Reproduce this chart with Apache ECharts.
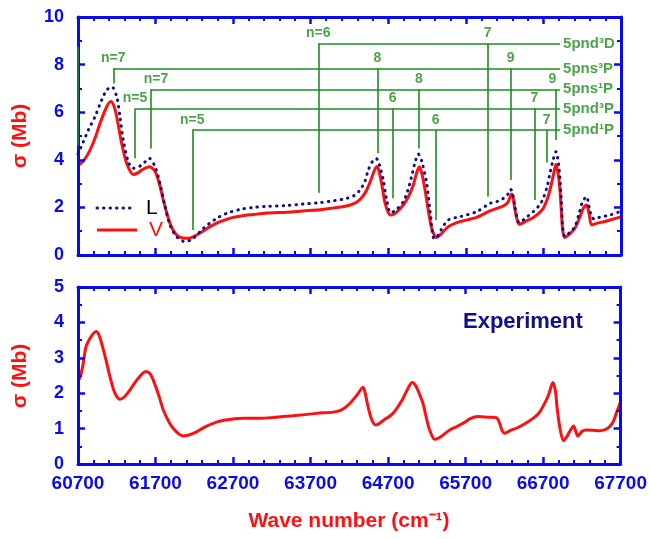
<!DOCTYPE html>
<html>
<head>
<meta charset="utf-8">
<script src="https://cdn.jsdelivr.net/npm/echarts@6/dist/echarts.min.js"></script>
<style>
  html, body { margin: 0; padding: 0; background: #fff; }
  .layer { position: absolute; left: 0; top: 0; width: 650px; height: 539px; }
</style>
</head>
<body>
<div class="layer" id="frame"></div>
<div class="layer" id="overlay"></div>
<script>
// Photoionization cross section (Mb) versus wave number (cm^-1)

// Theory, velocity form
const velocityForm = [
  [60700,3.75],[60780,4.0],[60855,4.41],[60930,5.0],[60984,5.53],[61070,6.23],[61125,6.45],[61165,6.25],
  [61199,5.81],[61263,4.69],[61328,3.85],[61413,3.38],[61470,3.45],[61521,3.57],[61619,3.71],[61680,3.58],
  [61714,3.36],[61760,2.85],[61800,2.31],[61886,1.33],[61972,0.84],[62080,0.70],[62150,0.72],[62230,0.84],
  [62320,1.02],[62402,1.19],[62530,1.40],[62617,1.50],[62700,1.58],[62800,1.64],[62960,1.70],[63132,1.76],
  [63390,1.80],[63600,1.85],[63819,1.90],[64000,1.98],[64163,2.06],[64270,2.18],[64335,2.33],[64400,2.6],
  [64464,3.05],[64520,3.55],[64555,3.72],[64590,3.4],[64625,2.8],[64657,2.2],[64700,1.78],[64731,1.68],
  [64790,1.75],[64893,2.10],[64960,2.45],[65022,2.94],[65070,3.5],[65100,3.71],[65135,3.4],[65170,2.8],
  [65195,2.31],[65230,1.6],[65259,1.12],[65300,0.80],[65324,0.74],[65380,0.88],[65473,1.19],[65624,1.40],
  [65839,1.58],[66011,1.85],[66118,1.98],[66183,2.06],[66240,2.2],[66290,2.56],[66310,2.4],[66333,1.89],
  [66360,1.5],[66389,1.29],[66480,1.43],[66570,1.58],[66650,1.78],[66698,1.96],[66750,2.35],[66784,2.73],
  [66825,3.3],[66861,3.81],[66890,3.4],[66913,2.73],[66930,1.9],[66948,1.05],[66977,0.74],[67040,0.9],
  [67106,1.12],[67170,1.6],[67214,1.96],[67257,2.10],[67290,1.7],[67322,1.26],[67386,1.33],[67480,1.40],
  [67558,1.47],[67700,1.60]
];

// Theory, length form
const lengthForm = [
  [60700,4.25],[60768,4.75],[60833,5.25],[60919,5.81],[61005,6.51],[61070,6.93],[61134,7.07],[61199,6.65],
  [61241,5.81],[61284,4.83],[61349,3.92],[61413,3.64],[61521,3.78],[61619,4.06],[61693,3.71],[61757,3.01],
  [61822,2.03],[61886,1.26],[61972,0.77],[62080,0.56],[62187,0.70],[62315,1.12],[62488,1.54],[62617,1.75],
  [62800,1.92],[62960,2.0],[63132,2.04],[63390,2.08],[63600,2.14],[63819,2.2],[64000,2.28],[64163,2.38],
  [64260,2.5],[64335,2.73],[64400,3.1],[64442,3.57],[64500,3.95],[64545,4.05],[64585,3.8],[64635,3.15],
  [64680,2.3],[64731,1.78],[64800,1.9],[64893,2.24],[64950,2.7],[65000,3.29],[65050,3.95],[65087,4.24],
  [65130,3.95],[65195,3.01],[65240,1.8],[65289,0.70],[65320,0.72],[65380,1.05],[65473,1.47],[65624,1.61],
  [65839,1.82],[66011,2.17],[66097,2.24],[66183,2.38],[66240,2.55],[66278,2.76],[66300,2.6],[66333,2.03],
  [66389,1.36],[66480,1.58],[66570,1.82],[66650,2.1],[66698,2.38],[66750,2.9],[66784,3.43],[66825,4.0],
  [66861,4.34],[66904,3.57],[66930,2.3],[66948,1.19],[66977,0.77],[67040,0.95],[67106,1.19],[67160,1.75],
  [67205,2.24],[67257,2.45],[67290,2.0],[67322,1.61],[67360,1.50],[67420,1.58],[67558,1.68],[67700,1.84]
];

// Measured spectrum
const experiment = [
  [60700,2.35],[60726,2.45],[60760,2.75],[60803,3.31],[60855,3.55],[60932,3.74],[60970,3.65],[61005,3.41],
  [61060,2.95],[61112,2.47],[61177,2.0],[61241,1.83],[61300,1.90],[61370,2.09],[61470,2.40],[61577,2.61],
  [61630,2.55],[61671,2.37],[61740,1.95],[61800,1.53],[61870,1.20],[61928,1.01],[62000,0.85],[62057,0.79],
  [62130,0.82],[62230,0.91],[62340,1.05],[62444,1.15],[62550,1.22],[62659,1.26],[62850,1.29],[63046,1.29],
  [63250,1.32],[63475,1.36],[63777,1.43],[64034,1.48],[64130,1.57],[64206,1.71],[64300,1.95],[64378,2.17],
  [64410,1.95],[64442,1.62],[64490,1.25],[64541,1.10],[64650,1.25],[64764,1.43],[64880,1.80],[64960,2.15],
  [65013,2.30],[65060,2.20],[65110,1.95],[65151,1.71],[65200,1.25],[65237,0.96],[65302,0.70],[65366,0.75],
  [65495,0.96],[65580,1.05],[65667,1.15],[65760,1.28],[65860,1.34],[66000,1.32],[66097,1.31],[66140,1.15],
  [66170,0.95],[66204,0.87],[66280,0.95],[66355,1.01],[66460,1.13],[66570,1.29],[66640,1.42],[66698,1.62],
  [66770,1.95],[66827,2.30],[66860,2.05],[66880,1.6],[66922,0.96],[66965,0.66],[67000,0.75],[67042,0.91],
  [67094,1.07],[67125,0.90],[67149,0.79],[67200,0.92],[67257,0.96],[67350,0.95],[67429,0.94],[67500,0.97],
  [67558,1.05],[67610,1.22],[67644,1.43],[67700,1.75]
];

// Rydberg series names and the level (in Mb units) at which each series bar is drawn
const seriesTerms = ['5pnd³D', '5pns³P', '5pns¹P', '5pnd³P', '5pnd¹P'];
const seriesLevels = [8.89, 7.84, 6.96, 6.16, 5.25];
const seriesBarEnd = 66915;

// Resonance assignments: [series index, wave number, lower end of marker, label, label shift]
const resonances = [
  [0, 63798, 2.62, 'n=6', 0], [0, 65981, 2.45, '7', 0],
  [1, 61155, 7.21, 'n=7', 0], [1, 64558, 4.27, '8', 0], [1, 66278, 3.15, '9', 0],
  [2, 61641, 4.48, 'n=7', 5], [2, 65096, 4.48, '8', 0], [2, 66853, 4.83, '9', -3],
  [3, 61435, 4.06, 'n=5', 0], [3, 64757, 2.38, '6', 0], [3, 66582, 2.31, '7', 0],
  [4, 62173, 1.05, 'n=5', 0], [4, 65311, 1.47, '6', 0], [4, 66742, 3.89, '7', 0]
];
// Edge marker along the left frame of the upper panel
const edgeMarker = [[60700, 8.75], [60700, 4.6]];

const xRange = [60700, 67700];
const topYRange = [0, 10];
const bottomYRange = [0, 5];

const BLUE = '#0a0af0';
const RED = '#ff1010';
const NAVY = '#10108a';
const GREEN = '#1e8c1e';
const FONT = '"Liberation Sans", Arial, Helvetica, sans-serif';

const grids = [
  { left: 78, right: 29, top: 17, height: 238 },
  { left: 78, right: 29, top: 287, height: 177 }
];

// ---------- frame layer: axes, ticks, tick labels, the two solid curves ----------

function xAxisFor(grid, position, withLabels) {
  return {
    type: 'value', gridIndex: grid, position: position, z: 10,
    min: xRange[0], max: xRange[1], interval: 1000,
    axisLine: { show: true, onZero: false, lineStyle: { color: BLUE, width: 3 } },
    axisTick: { show: true, inside: true, length: 7, lineStyle: { color: BLUE, width: 2.5 } },
    minorTick: { show: true, splitNumber: 5, length: 4, lineStyle: { color: BLUE, width: 2 } },
    splitLine: { show: false },
    axisLabel: {
      show: withLabels, color: BLUE, fontFamily: FONT, fontWeight: 'bold', fontSize: 19, margin: 10,
      formatter: function (v) { return String(v); }
    }
  };
}

function yAxisFor(grid, position, range, interval, withLabels) {
  return {
    type: 'value', gridIndex: grid, position: position, z: 10,
    min: range[0], max: range[1], interval: interval,
    axisLine: { show: true, onZero: false, lineStyle: { color: BLUE, width: 3 } },
    axisTick: { show: true, inside: true, length: 7, lineStyle: { color: BLUE, width: 2.5 } },
    minorTick: { show: true, splitNumber: 2, length: 4, lineStyle: { color: BLUE, width: 2 } },
    splitLine: { show: false },
    axisLabel: { show: withLabels, color: BLUE, fontFamily: FONT, fontWeight: 'bold', fontSize: 18, margin: 14 }
  };
}

const frame = echarts.init(document.getElementById('frame'), null, { renderer: 'canvas' });
frame.setOption({
  animation: false,
  grid: grids,
  xAxis: [
    xAxisFor(0, 'bottom', false),
    xAxisFor(0, 'top', false),
    xAxisFor(1, 'bottom', true),
    xAxisFor(1, 'top', false)
  ],
  yAxis: [
    yAxisFor(0, 'left', topYRange, 2, true),
    yAxisFor(0, 'right', topYRange, 2, false),
    yAxisFor(1, 'left', bottomYRange, 1, true),
    yAxisFor(1, 'right', bottomYRange, 1, false)
  ],
  series: [
    {
      name: 'V', type: 'line', xAxisIndex: 0, yAxisIndex: 0,
      data: velocityForm, smooth: 0.3, showSymbol: false, symbol: 'none',
      lineStyle: { color: RED, width: 3 }
    },
    {
      name: 'Experiment', type: 'line', xAxisIndex: 2, yAxisIndex: 2,
      data: experiment, smooth: 0.3, showSymbol: false, symbol: 'none',
      lineStyle: { color: RED, width: 3 }
    }
  ]
});

// ---------- overlay layer: dotted curve, assignment diagram, titles, key ----------

const assignmentSegments = [];
seriesLevels.forEach(function (lvl, i) {
  const xs = resonances.filter(r => r[0] === i).map(r => r[1]);
  assignmentSegments.push([[Math.min.apply(null, xs), lvl], [seriesBarEnd, lvl]]);
});
resonances.forEach(function (r) {
  assignmentSegments.push([[r[1], seriesLevels[r[0]]], [r[1], r[2]]]);
});
assignmentSegments.push(edgeMarker);

const resonanceLabels = resonances.map(r => ({
  value: [r[1], seriesLevels[r[0]]],
  label: { formatter: r[3], offset: [r[4], 0] }
}));
const termLabels = seriesLevels.map((lvl, i) => ({
  value: [seriesBarEnd, lvl],
  label: { formatter: seriesTerms[i] }
}));

function hiddenAxis(grid, range) {
  return { type: 'value', gridIndex: grid, min: range[0], max: range[1], show: false, splitLine: { show: false } };
}

function titleText(text, x, y, opts) {
  return {
    type: 'text', x: x, y: y, rotation: opts.rotation || 0, silent: true,
    style: {
      text: text, fill: opts.color, font: opts.font,
      textAlign: opts.align || 'center', textVerticalAlign: 'middle'
    }
  };
}

const overlay = echarts.init(document.getElementById('overlay'), null, { renderer: 'canvas' });
overlay.setOption({
  animation: false,
  grid: grids,
  xAxis: [hiddenAxis(0, xRange), hiddenAxis(1, xRange)],
  yAxis: [hiddenAxis(0, topYRange), hiddenAxis(1, bottomYRange)],
  graphic: [
    titleText('σ (Mb)', 20, 136, { rotation: Math.PI / 2, color: RED, font: 'bold 21px ' + FONT }),
    titleText('σ (Mb)', 20, 376, { rotation: Math.PI / 2, color: RED, font: 'bold 21px ' + FONT }),
    titleText('Wave number (cm⁻¹)', 349, 521, { color: RED, font: 'bold 21px ' + FONT }),
    titleText('Experiment', 463, 322, { color: NAVY, font: 'bold 22px ' + FONT, align: 'left' }),
    // key for the two theoretical forms
    { type: 'line', silent: true, shape: { x1: 97, y1: 208, x2: 133, y2: 208 },
      style: { stroke: NAVY, lineWidth: 3, lineDash: [0.5, 6], lineCap: 'round' } },
    titleText('L', 146, 208, { color: '#000000', font: '21px ' + FONT, align: 'left' }),
    { type: 'line', silent: true, shape: { x1: 97, y1: 230, x2: 137, y2: 230 },
      style: { stroke: RED, lineWidth: 3 } },
    titleText('V', 149, 230, { color: RED, font: '21px ' + FONT, align: 'left' })
  ],
  series: [
    {
      name: 'assignments', type: 'lines', coordinateSystem: 'cartesian2d',
      xAxisIndex: 0, yAxisIndex: 0, silent: true, z: 1,
      lineStyle: { color: GREEN, width: 1.6, opacity: 1 },
      data: assignmentSegments.map(seg => ({ coords: seg }))
    },
    {
      name: 'L', type: 'line', xAxisIndex: 0, yAxisIndex: 0,
      data: lengthForm, smooth: 0.3, showSymbol: false, symbol: 'none', z: 3,
      lineStyle: { color: NAVY, width: 3, type: [0.5, 6], cap: 'round' }
    },
    {
      name: 'resonance labels', type: 'scatter', xAxisIndex: 0, yAxisIndex: 0,
      symbolSize: 0, silent: true, z: 5,
      label: {
        show: true, position: 'top', distance: 3,
        color: GREEN, fontFamily: FONT, fontWeight: 'bold', fontSize: 14
      },
      data: resonanceLabels
    },
    {
      name: 'term labels', type: 'scatter', xAxisIndex: 0, yAxisIndex: 0,
      symbolSize: 0, silent: true, z: 5,
      label: {
        show: true, position: 'right', distance: 3,
        color: GREEN, fontFamily: FONT, fontWeight: 'bold', fontSize: 15
      },
      data: termLabels
    }
  ]
});
</script>
</body>
</html>
